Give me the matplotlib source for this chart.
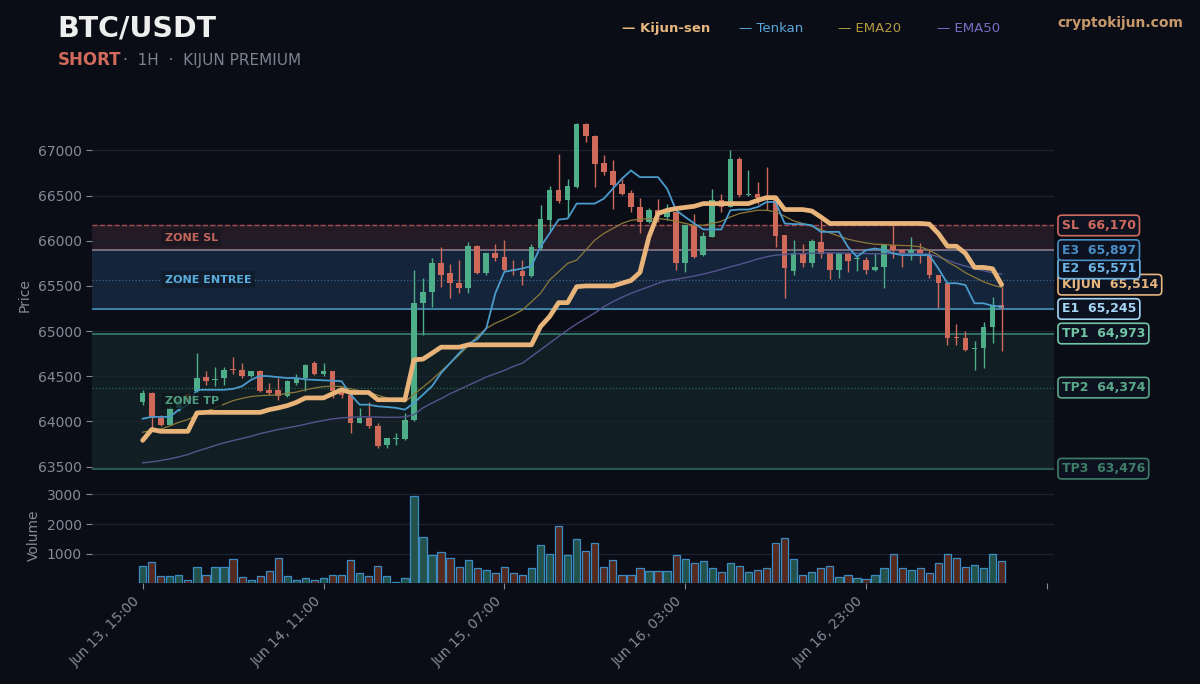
import matplotlib
matplotlib.use('Agg')
import matplotlib.pyplot as plt
import matplotlib.transforms as mtransforms
import numpy as np
import pandas as pd

##########################
# Candles (1H, BTC/USDT) #
##########################
opens = [64211, 64315, 64039, 63965, 64150, 64300, 64335, 64490, 64455, 64480,
         64575, 64570, 64500, 64555, 64350, 64350, 64280, 64430, 64480, 64645,
         64525, 64555, 64320, 64296, 63985, 64040, 63945, 63735, 63805, 63800,
         64015, 65310, 65435, 65757, 65640, 65535, 65475, 65940, 65640, 65865,
         65820, 65685, 65670, 65605, 65915, 66235, 66565, 66455, 66600, 67290,
         67165, 66860, 66770, 66625, 66530, 66375, 66210, 66345, 66260, 66320,
         65750, 66170, 65840, 66045, 66455, 66375, 66910, 66510, 66520, 66485,
         66450, 66060, 65660, 65865, 65755, 65990, 65860, 65675, 65860, 65800,
         65785, 65675, 65705, 65950, 65900, 65855, 65895, 65840, 65620, 65535,
         64940, 64920, 64800, 64810, 65050, 65290]
closes = [64315, 64040, 63965, 64150, 64250, 64220, 64480, 64450, 64470, 64570,
          64565, 64500, 64555, 64335, 64315, 64285, 64445, 64480, 64625, 64525,
          64555, 64335, 64290, 63985, 64040, 63950, 63725, 63815, 63815, 64020,
          65315, 65435, 65757, 65622, 65530, 65475, 65940, 65640, 65865, 65815,
          65675, 65660, 65605, 65933, 66245, 66565, 66440, 66605, 67290, 67165,
          66855, 66760, 66615, 66520, 66375, 66210, 66345, 66300, 66320, 65750,
          66170, 65825, 66050, 66455, 66375, 66910, 66505, 66520, 66470, 66450,
          66050, 65700, 65865, 65755, 66000, 65850, 65675, 65860, 65780, 65810,
          65675, 65705, 65950, 65895, 65850, 65895, 65855, 65620, 65535, 64920,
          64920, 64795, 64810, 65050, 65290, 65255]
highs = [64351, 64330, 64075, 64167, 64280, 64310, 64760, 64555, 64605, 64602,
         64712, 64645, 64560, 64570, 64425, 64480, 64460, 64520, 64635, 64665,
         64645, 64560, 64340, 64300, 64150, 64210, 63980, 63820, 63874, 64094,
         65675, 65583, 65805, 65933, 65742, 65786, 65988, 65955, 65870, 65970,
         66007, 65786, 65786, 65970, 66393, 66603, 66963, 66687, 67300, 67300,
         67170, 66945, 66897, 66687, 66566, 66477, 66368, 66468, 66412, 66325,
         66180, 66302, 66099, 66577, 66522, 67000, 66926, 66788, 66650, 66816,
         66460, 66065, 66007, 65962, 66015, 66227, 65865, 65870, 65875, 65840,
         65823, 65860, 65955, 66172, 65905, 66044, 65979, 65896, 65625, 65540,
         65079, 64996, 64885, 65104, 65374, 65492]
lows = [64185, 63932, 63947, 63960, 64120, 64200, 64320, 64406, 64395, 64406,
        64530, 64480, 64495, 64330, 64296, 64240, 64275, 64400, 64333, 64515,
        64500, 64259, 64260, 63874, 63980, 63930, 63710, 63700, 63744, 63795,
        64000, 64958, 65271, 65492, 65363, 65418, 65427, 65630, 65620, 65779,
        65660, 65620, 65510, 65600, 65896, 66117, 66418, 66264, 66590, 67092,
        66596, 66724, 66357, 66503, 66319, 66088, 66192, 66209, 66227, 65675,
        65657, 65805, 65835, 66040, 66319, 66370, 66486, 66495, 66412, 66338,
        65933, 65363, 65620, 65705, 65712, 65805, 65572, 65590, 65657, 65660,
        65631, 65670, 65480, 65805, 65705, 65786, 65749, 65583, 65254, 64848,
        64848, 64775, 64572, 64590, 64867, 64775]
volumes = [600, 720, 240, 240, 275, 130, 540, 275, 570, 570,
           810, 215, 120, 240, 420, 845, 240, 130, 190, 130,
           190, 300, 275, 775, 360, 240, 595, 240, 60, 190,
           2950, 1550, 965, 1050, 845, 570, 775, 535, 450, 335,
           570, 360, 300, 535, 1300, 990, 1930, 965, 1500, 1105,
           1370, 570, 775, 300, 300, 510, 420, 420, 420, 965,
           810, 690, 750, 535, 395, 690, 595, 395, 450, 535,
           1370, 1525, 810, 300, 370, 510, 595, 215, 300, 190,
           155, 300, 535, 990, 535, 450, 510, 335, 690, 990,
           845, 550, 630, 535, 990, 750]

######################
# Indicator readings #
######################
kijun = [63790, 63910, 63890, 63890, 63890, 63890, 64094, 64100, 64100, 64100,
         64100, 64100, 64100, 64100, 64130, 64150, 64175, 64211, 64260, 64260,
         64260, 64307, 64350, 64320, 64320, 64320, 64240, 64240, 64240, 64240,
         64682, 64690, 64755, 64822, 64822, 64822, 64848, 64848, 64848, 64848,
         64848, 64848, 64848, 64848, 65050, 65160, 65315, 65315, 65492, 65500,
         65500, 65500, 65500, 65530, 65560, 65650, 66044, 66302, 66338, 66357,
         66370, 66382, 66412, 66412, 66412, 66412, 66412, 66412, 66448, 66478,
         66478, 66346, 66346, 66346, 66330, 66264, 66192, 66192, 66192, 66192,
         66192, 66192, 66192, 66192, 66192, 66192, 66192, 66185, 66081, 65940,
         65940, 65860, 65705, 65705, 65690, 65514]
tenkan = [64030, 64050, 64050, 64050, 64130, 64185, 64350, 64350, 64350, 64350,
          64360, 64390, 64461, 64505, 64500, 64490, 64480, 64480, 64465, 64460,
          64455, 64450, 64445, 64296, 64185, 64185, 64167, 64160, 64150, 64130,
          64204, 64296, 64390, 64535, 64645, 64755, 64859, 64910, 65030, 65418,
          65657, 65675, 65694, 65720, 65933, 66081, 66235, 66246, 66412, 66412,
          66412, 66467, 66577, 66687, 66779, 66705, 66705, 66705, 66577, 66338,
          66264, 66192, 66126, 66126, 66126, 66338, 66346, 66346, 66374, 66430,
          66430, 66192, 66185, 66185, 66172, 66099, 66099, 66099, 65933, 65823,
          65896, 65915, 65896, 65860, 65841, 65841, 65841, 65841, 65694, 65530,
          65530, 65510, 65308, 65308, 65280, 65270]
ema20 = [63880, 63900, 63915, 63950, 63990, 64020, 64070, 64110, 64150, 64190,
         64230, 64255, 64275, 64285, 64290, 64295, 64310, 64325, 64350, 64370,
         64385, 64390, 64385, 64360, 64340, 64320, 64290, 64260, 64235, 64215,
         64300, 64380, 64462, 64554, 64645, 64737, 64837, 64940, 65030, 65087,
         65130, 65180, 65234, 65325, 65418, 65565, 65657, 65750, 65786, 65896,
         66007, 66081, 66136, 66192, 66227, 66239, 66246, 66246, 66235, 66216,
         66192, 66172, 66172, 66192, 66216, 66264, 66302, 66320, 66338, 66338,
         66320, 66272, 66220, 66192, 66161, 66125, 66088, 66051, 66018, 65996,
         65977, 65962, 65960, 65951, 65948, 65945, 65933, 65896, 65841, 65767,
         65712, 65646, 65595, 65547, 65510, 65484]
ema50 = [63541, 63552, 63567, 63585, 63607, 63634, 63670, 63700, 63733, 63763,
         63788, 63810, 63836, 63865, 63887, 63910, 63928, 63947, 63969, 63991,
         64010, 64028, 64039, 64046, 64050, 64050, 64048, 64045, 64045, 64050,
         64075, 64150, 64204, 64252, 64307, 64351, 64399, 64444, 64492, 64528,
         64565, 64609, 64645, 64719, 64792, 64866, 64940, 65013, 65080, 65140,
         65200, 65270, 65325, 65374, 65418, 65455, 65492, 65530, 65560, 65574,
         65592, 65610, 65631, 65657, 65683, 65712, 65738, 65767, 65797, 65823,
         65841, 65849, 65855, 65858, 65862, 65866, 65866, 65864, 65862, 65860,
         65858, 65856, 65858, 65860, 65860, 65860, 65858, 65852, 65823, 65786,
         65749, 65720, 65694, 65668, 65646, 65631]

###############
# Trade plan  #
###############
level_names = ['SL', 'E3', 'E2', 'KIJUN', 'E1', 'TP1', 'TP2', 'TP3']
level_prices = [66170, 65897, 65571, 65514, 65245, 64973, 64374, 63476]

times = pd.date_range('2024-06-13 15:00', periods=len(opens), freq='h')

#########
# Style #
#########
BG = '#0a0d16'
GRID = '#1b2232'
TICK = '#848a98'
GREEN = '#4fae8a'
RED = '#cf6a5b'
level_colors = ['#d06a5e', '#4a8fc6', '#6cb6e8', '#e6b67e',
                '#a6d6f6', '#72c6a6', '#5aa88a', '#3e7d68']

fig = plt.figure(figsize=(12, 6.84), dpi=100, facecolor=BG)
ax = fig.add_axes([0.0767, 0.310, 0.8017, 0.5175], facecolor=BG)
axv = fig.add_axes([0.0767, 0.147, 0.8017, 0.141], facecolor=BG, sharex=ax)

x = np.arange(len(opens))
o = np.array(opens)
c = np.array(closes)
up = c >= o
cols = np.where(up, GREEN, RED)

##################
# Zones / levels #
##################
sl, e3, e2, kj, e1, tp1, tp2, tp3 = level_prices
ax.axhspan(e3, sl, color='#231a25', zorder=0)
ax.axhspan(e1, e3, color='#14243a', zorder=0)
ax.axhspan(tp3, tp1, color='#111e23', zorder=0)
ax.axhline(sl, color='#a84e4e', lw=1, ls='--', zorder=1)
ax.axhline(e3, color='#8a7a8c', lw=1.2, zorder=1)
ax.axhline(e2, color='#3e6484', lw=0.9, ls=':', zorder=1)
ax.axhline(e1, color='#4a9ac4', lw=1.1, zorder=1)
ax.axhline(tp1, color='#3a8a78', lw=1.1, zorder=1)
ax.axhline(tp2, color='#2f6656', lw=0.9, ls=':', zorder=1)
ax.axhline(tp3, color='#2f6a5a', lw=1.1, zorder=1)

zt = mtransforms.blended_transform_factory(ax.transAxes, ax.transData)
ax.text(0.0755, (e3 + sl) / 2, 'ZONE SL', transform=zt, color='#c4655a', fontsize=8,
        fontweight='bold', va='center', zorder=7,
        bbox=dict(boxstyle='square,pad=0.3', fc='#1b1620', ec='none'))
ax.text(0.0755, (e1 + e3) / 2, 'ZONE ENTREE', transform=zt, color='#5aaede', fontsize=8,
        fontweight='bold', va='center', zorder=7,
        bbox=dict(boxstyle='square,pad=0.3', fc='#111c2c', ec='none'))
ax.text(0.0755, (tp3 + tp1) / 2, 'ZONE TP', transform=zt, color='#4f9e80', fontsize=8,
        fontweight='bold', va='center', zorder=7,
        bbox=dict(boxstyle='square,pad=0.3', fc='#0e171c', ec='none', alpha=0.8))

###########
# Candles #
###########
ax.vlines(x, lows, highs, colors=cols, lw=1, zorder=3)
ax.bar(x, np.maximum(np.abs(c - o), 10), bottom=np.minimum(o, c), width=0.62,
       color=cols, zorder=4)

##############
# Indicators #
##############
ax.plot(x, ema50, color='#54548e', lw=1.0, zorder=5)
ax.plot(x, ema20, color='#8c7a3a', lw=0.9, zorder=5)
ax.plot(x, tenkan, color='#4a9bcc', lw=1.3, zorder=5)
ax.plot(x, kijun, color='#e8b47a', lw=3.4, zorder=6, solid_capstyle='round')

ax.set_ylim(63440, 67360)
ax.set_xlim(-5.6, 100.8)
ax.set_yticks(np.arange(63500, 67001, 500))
ax.yaxis.grid(True, color=GRID, lw=0.9)
ax.set_axisbelow(True)
ax.tick_params(axis='y', colors=TICK, labelsize=10, length=4)
ax.tick_params(axis='x', bottom=False, labelbottom=False)
ax.set_ylabel('Price', color=TICK, fontsize=10)
for s in ax.spines.values():
    s.set_visible(False)

###############################
# Right side price labels     #
###############################
gap = 180
placed = []
for name, price, col in sorted(zip(level_names, level_prices, level_colors), key=lambda t: t[1]):
    ypos = price
    if placed and ypos - placed[-1] < gap:
        ypos = placed[-1] + gap
    placed.append(ypos)
    ax.annotate('%s  %s' % (name, format(price, ',')), xy=(1.0, ypos), xycoords=zt,
                xytext=(5.5, 0), textcoords='offset points', ha='left', va='center',
                fontsize=9, fontweight='bold', color=col, annotation_clip=False,
                bbox=dict(boxstyle='round,pad=0.3', fc='#0d1220', ec=col, lw=1.2))

##########
# Volume #
##########
axv.bar(x, volumes, width=0.8, color=np.where(up, '#24524a', '#56291f'),
        edgecolor='#3b8cc4', linewidth=0.9, zorder=3)
axv.set_ylim(0, max(volumes) * 1.1)
axv.set_yticks([1000, 2000, 3000])
axv.yaxis.grid(True, color=GRID, lw=0.9)
axv.set_axisbelow(True)
axv.set_ylabel('Volume', color=TICK, fontsize=10)
ticks = list(range(0, 101, 20))
axv.set_xticks(ticks)
axv.set_xticklabels([times[i].strftime('%b %d, %H:%M') if i < len(times) else '' for i in ticks],
                    rotation=45, ha='right')
axv.tick_params(colors=TICK, labelsize=10, length=4)
for s in axv.spines.values():
    s.set_visible(False)

##################
# Header texts   #
##################
fig.text(0.048, 0.958, 'BTC/USDT', color='#eeeeee', fontsize=20.5, fontweight='bold', va='center')
fig.text(0.048, 0.913, 'SHORT', color='#d06a5c', fontsize=12, fontweight='bold', va='center')
fig.text(0.1025, 0.911, '·  1H  ·  KIJUN PREMIUM', color='#7b8290', fontsize=11, va='center')

legend_items = [('— Kijun-sen', '#e6b67e', 'bold', 0.518),
                ('— Tenkan', '#5aa8da', 'normal', 0.616),
                ('— EMA20', '#b39a3e', 'normal', 0.698),
                ('— EMA50', '#7c6cc4', 'normal', 0.781)]
for txt, col, fw, xp in legend_items:
    fig.text(xp, 0.958, txt, color=col, fontsize=9.5, fontweight=fw, va='center')
fig.text(0.986, 0.967, 'cryptokijun.com', color='#c8996a', fontsize=10, fontweight='bold',
         va='center', ha='right')

plt.savefig('out.png', dpi=100, facecolor=BG)
